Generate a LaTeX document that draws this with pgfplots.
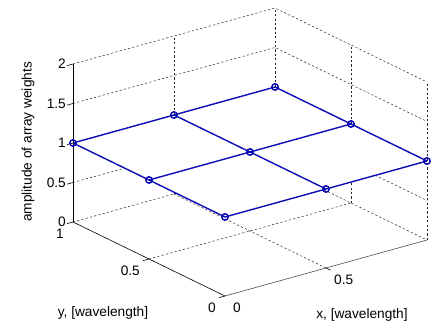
\documentclass[border=0pt]{standalone}
\usepackage{fontspec}
\setmainfont{Liberation Sans}
\usepackage{pgfplots}
\pgfplotsset{compat=1.18}
\definecolor{mblue}{rgb}{0.05,0.05,0.72}
\begin{document}
\begin{tikzpicture}[font=\fontsize{13.7}{16}\selectfont,
  gr/.style={black!85, line width=0.5pt, dash pattern=on 2.2pt off 2.2pt},
  ax/.style={black, line width=0.6pt},
  tl/.style={inner sep=0pt},
  ml/.style={mblue, line width=1.4pt, mark=o, mark size=3.2pt, mark options={mblue, line width=1.2pt, solid}}]
\begin{axis}[
  x={(202pt,56pt)}, y={(-152pt,74pt)}, z={(0pt,79pt)},
  xmin=0,xmax=1,ymin=0,ymax=1,zmin=0,zmax=2,
  hide axis, clip=false, disabledatascaling,
]
% grid on back walls and floor
\draw[gr] (axis cs:0,1,0) -- (axis cs:1,1,0) -- (axis cs:1,0,0);
\draw[gr] (axis cs:0,1,0.5) -- (axis cs:1,1,0.5) -- (axis cs:1,0,0.5);
\draw[gr] (axis cs:0,1,1) -- (axis cs:1,1,1) -- (axis cs:1,0,1);
\draw[gr] (axis cs:0,1,1.5) -- (axis cs:1,1,1.5) -- (axis cs:1,0,1.5);
\draw[gr] (axis cs:0,1,2) -- (axis cs:1,1,2) -- (axis cs:1,0,2);
\draw[gr] (axis cs:0.5,1,0) -- (axis cs:0.5,1,2);
\draw[gr] (axis cs:1,1,0) -- (axis cs:1,1,2);
\draw[gr] (axis cs:1,0.5,0) -- (axis cs:1,0.5,2);
\draw[gr] (axis cs:1,0,0) -- (axis cs:1,0,2);
\draw[gr] (axis cs:0.5,0,0) -- (axis cs:0.5,1,0);
\draw[gr] (axis cs:0,0.5,0) -- (axis cs:1,0.5,0);
% opaque white face of the mesh
\addplot3[fill=white, draw=none] coordinates {(0,0,1) (1,0,1) (1,1,1) (0,1,1)} -- cycle;
% mesh lines
\addplot3[ml] coordinates {(0,0,1) (0.5,0,1) (1,0,1)};
\addplot3[ml] coordinates {(0,0.5,1) (0.5,0.5,1) (1,0.5,1)};
\addplot3[ml] coordinates {(0,1,1) (0.5,1,1) (1,1,1)};
\addplot3[ml] coordinates {(0,0,1) (0,0.5,1) (0,1,1)};
\addplot3[ml] coordinates {(0.5,0,1) (0.5,0.5,1) (0.5,1,1)};
\addplot3[ml] coordinates {(1,0,1) (1,0.5,1) (1,1,1)};
% axis lines
\draw[ax] (axis cs:0,1,0) -- (axis cs:0,1,2);
\draw[ax] (axis cs:0,0,0) -- (axis cs:0,1,0);
\draw[ax, black!70] (axis cs:0,0,0) -- (axis cs:1,0,0);
% ticks
\draw[ax] (axis cs:0,1,0) -- (axis cs:-0.03,1,0);
\draw[ax] (axis cs:0,1,0.5) -- (axis cs:-0.03,1,0.5);
\draw[ax] (axis cs:0,1,1) -- (axis cs:-0.03,1,1);
\draw[ax] (axis cs:0,1,1.5) -- (axis cs:-0.03,1,1.5);
\draw[ax] (axis cs:0,1,2) -- (axis cs:-0.03,1,2);
\draw[ax] (axis cs:0,0.5,0) -- (axis cs:-0.03,0.5,0);
\draw[ax] (axis cs:0,0,0) -- (axis cs:-0.03,0,0);
\draw[ax] (axis cs:0.5,0,0) -- (axis cs:0.5,-0.03,0);
% tick labels
\node[tl, anchor=east, xshift=-7pt] at (axis cs:0,1,0) {0};
\node[tl, anchor=east, xshift=-7pt] at (axis cs:0,1,0.5) {0.5};
\node[tl, anchor=east, xshift=-7pt] at (axis cs:0,1,1) {1};
\node[tl, anchor=east, xshift=-7pt] at (axis cs:0,1,1.5) {1.5};
\node[tl, anchor=east, xshift=-7pt] at (axis cs:0,1,2) {2};
\node[tl, anchor=north east, xshift=-9pt, yshift=-7pt] at (axis cs:0,1,0) {1};
\node[tl, anchor=north east, xshift=-9pt, yshift=-7pt] at (axis cs:0,0.5,0) {0.5};
\node[tl, anchor=north east, xshift=-9pt, yshift=-7pt] at (axis cs:0,0,0) {0};
\node[tl, anchor=north west, xshift=8pt, yshift=-7pt] at (axis cs:0,0,0) {0};
\node[tl, anchor=north west, xshift=8pt, yshift=-7pt] at (axis cs:0.5,0,0) {0.5};
\coordinate (O) at (axis cs:0,0,0);
\end{axis}
\node at ([shift={(137pt,-19pt)}]O) {x, [wavelength]};
\node at ([shift={(-122pt,-17pt)}]O) {y, [wavelength]};
\node[rotate=90] at ([shift={(-197pt,154pt)}]O) {amplitude of array weights};
\pgfresetboundingbox
\path[use as bounding box] ([shift={(-225pt,-30pt)}]O) rectangle ([shift={(209pt,296pt)}]O);
\end{tikzpicture}
\end{document}
